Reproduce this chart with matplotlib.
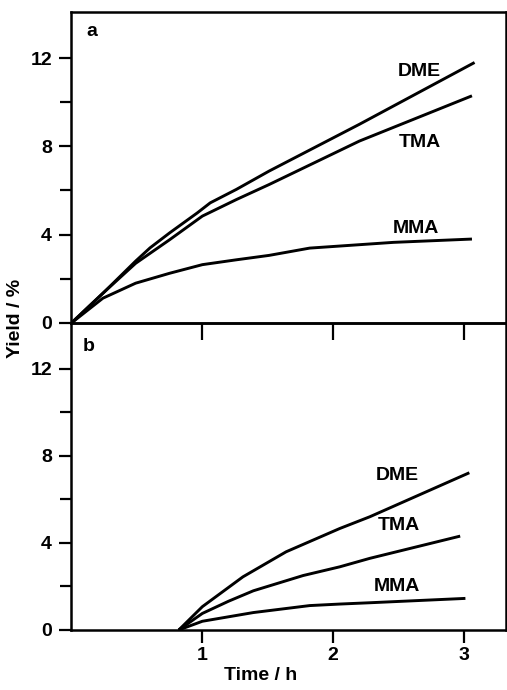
import matplotlib
matplotlib.use("Agg")
import matplotlib.pyplot as plt
from matplotlib.ticker import FixedLocator

# panel a: yields vs time (h)
a_time_dme = [0.0, 0.25, 0.49, 0.60, 0.75, 0.96, 1.06, 1.26, 1.51, 2.2, 3.08]
a_dme = [0.0, 1.4, 2.8, 3.4, 4.08, 4.98, 5.44, 6.05, 6.88, 9.0, 11.8]
a_time_tma = [0.0, 0.25, 0.49, 0.75, 1.0, 1.26, 1.51, 2.2, 3.06]
a_tma = [0.0, 1.4, 2.7, 3.77, 4.84, 5.59, 6.27, 8.24, 10.29]
a_time_mma = [0.0, 0.24, 0.49, 0.75, 1.0, 1.26, 1.51, 1.82, 2.46, 3.06]
a_mma = [0.0, 1.12, 1.8, 2.25, 2.64, 2.86, 3.06, 3.39, 3.65, 3.8]

# panel b
b_time_dme = [0.82, 1.0, 1.31, 1.64, 2.05, 2.28, 3.04]
b_dme = [0.0, 1.07, 2.44, 3.59, 4.66, 5.2, 7.22]
b_time_tma = [0.82, 1.0, 1.2, 1.39, 1.77, 2.05, 2.28, 2.97]
b_tma = [0.0, 0.76, 1.32, 1.8, 2.5, 2.9, 3.29, 4.31]
b_time_mma = [0.82, 1.0, 1.39, 1.82, 2.05, 2.28, 3.01]
b_mma = [0.0, 0.4, 0.8, 1.12, 1.19, 1.25, 1.45]

# label anchors (data coords)
a_labels = {"DME": (2.66, 11.4), "TMA": (2.66, 8.17), "MMA": (2.63, 4.3)}
b_labels = {"DME": (2.49, 7.1), "TMA": (2.5, 4.8), "MMA": (2.49, 2.0)}

FONT = "Liberation Sans"
FS = 14


def style_axis(ax):
    ax.set_xlim(0, 3.32)
    ax.set_ylim(0, 14.1)
    ax.yaxis.set_major_locator(FixedLocator([0, 4, 8, 12]))
    ax.yaxis.set_minor_locator(FixedLocator([2, 6, 10]))
    ax.set_xticks([1, 2, 3])
    for s in ax.spines.values():
        s.set_linewidth(1.8)
    ax.tick_params(axis="both", which="major", direction="out", length=9, width=1.6,
                   labelsize=FS, pad=5)
    ax.tick_params(axis="y", which="minor", direction="out", length=8, width=1.6)
    for lab in ax.get_yticklabels() + ax.get_xticklabels():
        lab.set_fontfamily(FONT)
        lab.set_fontweight("bold")


def main():
    fig = plt.figure(figsize=(5.07, 6.90), dpi=100)
    ax_a = fig.add_axes([0.141, 0.532, 0.857, 0.451])
    ax_b = fig.add_axes([0.141, 0.087, 0.857, 0.445])
    ax_b.patch.set_visible(False)

    for ax, series, labels, letter, lpos in [
        (ax_a, [(a_time_dme, a_dme), (a_time_tma, a_tma), (a_time_mma, a_mma)],
         a_labels, "a", (0.047, 0.936)),
        (ax_b, [(b_time_dme, b_dme), (b_time_tma, b_tma), (b_time_mma, b_mma)],
         b_labels, "b", (0.040, 0.922)),
    ]:
        for t, y in series:
            ax.plot(t, y, color="black", lw=2.1, solid_capstyle="butt")
        for name, (x, y) in labels.items():
            ax.text(x, y, name, ha="center", va="center", fontsize=FS,
                    fontweight="bold", family=FONT)
        ax.text(lpos[0], lpos[1], letter, transform=ax.transAxes, ha="center",
                va="center", fontsize=FS, fontweight="bold", family=FONT)
        style_axis(ax)

    ax_a.tick_params(axis="x", labelbottom=False, length=12)
    ax_b.tick_params(axis="x", length=9, pad=3)
    fig.text(0.515, 1 - 675 / 690, "Time / h", ha="center", va="center",
             fontsize=FS, fontweight="bold", family=FONT)
    fig.text(0.03, 1 - 318 / 690, "Yield / %", rotation=90, ha="center", va="center",
             fontsize=FS, fontweight="bold", family=FONT)

    plt.savefig("out.png", dpi=100)
    plt.close()


if __name__ == "__main__":
    main()
